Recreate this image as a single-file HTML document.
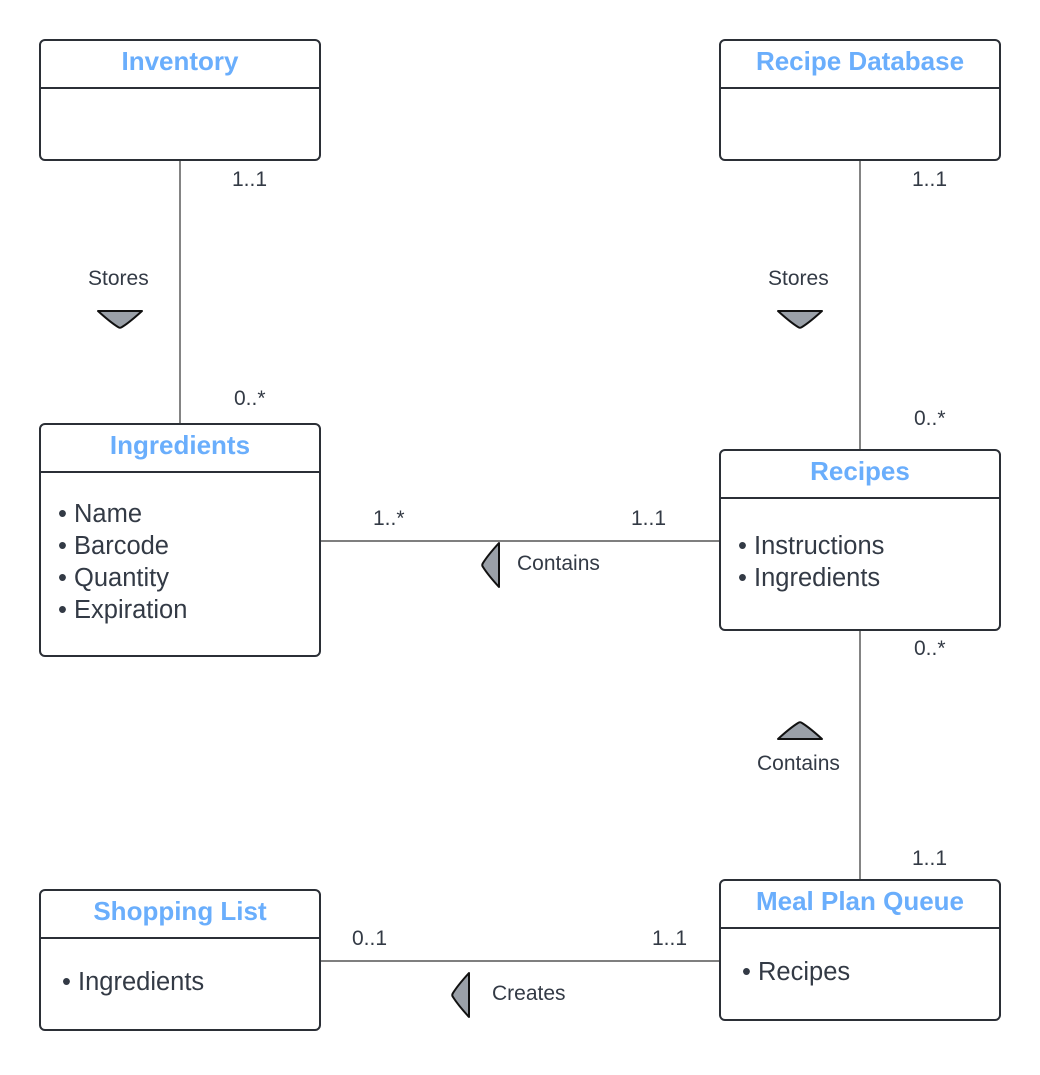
<!DOCTYPE html>
<html><head><style>body{margin:0;background:#fff}</style></head><body>
<svg width="1040" height="1070" xmlns="http://www.w3.org/2000/svg" font-family="Liberation Sans, sans-serif">
<g stroke="#333" stroke-width="1.2">
<line x1="180" y1="160" x2="180" y2="424"/>
<line x1="860" y1="160" x2="860" y2="450"/>
<line x1="320" y1="541" x2="720" y2="541"/>
<line x1="860" y1="630" x2="860" y2="880"/>
<line x1="320" y1="961" x2="720" y2="961"/>
</g>
<g fill="#fff" stroke="#2b2f36" stroke-width="2">
<rect x="40" y="40" width="280" height="120" rx="5"/><line x1="40" y1="88" x2="320" y2="88"/>
<rect x="720" y="40" width="280" height="120" rx="5"/><line x1="720" y1="88" x2="1000" y2="88"/>
<rect x="40" y="424" width="280" height="232" rx="5"/><line x1="40" y1="472" x2="320" y2="472"/>
<rect x="720" y="450" width="280" height="180" rx="5"/><line x1="720" y1="498" x2="1000" y2="498"/>
<rect x="40" y="890" width="280" height="140" rx="5"/><line x1="40" y1="938" x2="320" y2="938"/>
<rect x="720" y="880" width="280" height="140" rx="5"/><line x1="720" y1="928" x2="1000" y2="928"/>
</g>
<g fill="#9aa0a8" stroke="#111" stroke-width="2" stroke-linejoin="round">
<path d="M98,311 L142,311 Q130,322 122,327 Q120,328.5 118,327 Q110,322 98,311Z"/>
<path d="M778,311 L822,311 Q810,322 802,327 Q800,328.5 798,327 Q790,322 778,311Z"/>
<path d="M778,739 L822,739 Q810,728 802,723 Q800,721.5 798,723 Q790,728 778,739Z"/>
<path d="M499,543 L499,587 Q488,575 483,567 Q481.5,565 483,563 Q488,555 499,543Z"/>
<path d="M469,973 L469,1017 Q458,1005 453,997 Q451.5,995 453,993 Q458,985 469,973Z"/>
</g>
<g fill="#6aaefc" font-weight="bold" font-size="26" text-anchor="middle">
<text x="180" y="70">Inventory</text>
<text x="860" y="70">Recipe Database</text>
<text x="180" y="454">Ingredients</text>
<text x="860" y="480">Recipes</text>
<text x="180" y="920">Shopping List</text>
<text x="860" y="910">Meal Plan Queue</text>
</g>
<g fill="#333a45" font-size="25.5">
<text x="58" y="522">• Name</text>
<text x="58" y="554">• Barcode</text>
<text x="58" y="586">• Quantity</text>
<text x="58" y="618">• Expiration</text>
<text x="738" y="554">• Instructions</text>
<text x="738" y="586">• Ingredients</text>
<text x="62" y="990">• Ingredients</text>
<text x="742" y="980">• Recipes</text>
</g>
<g fill="#333a45" font-size="21">
<text x="232" y="186">1..1</text>
<text x="912" y="186">1..1</text>
<text x="88" y="285">Stores</text>
<text x="768" y="285">Stores</text>
<text x="234" y="405">0..*</text>
<text x="914" y="425">0..*</text>
<text x="373" y="525">1..*</text>
<text x="631" y="525">1..1</text>
<text x="517" y="570">Contains</text>
<text x="914" y="655">0..*</text>
<text x="757" y="770">Contains</text>
<text x="912" y="865">1..1</text>
<text x="352" y="945">0..1</text>
<text x="652" y="945">1..1</text>
<text x="492" y="1000">Creates</text>
</g>
</svg>
</body></html>
